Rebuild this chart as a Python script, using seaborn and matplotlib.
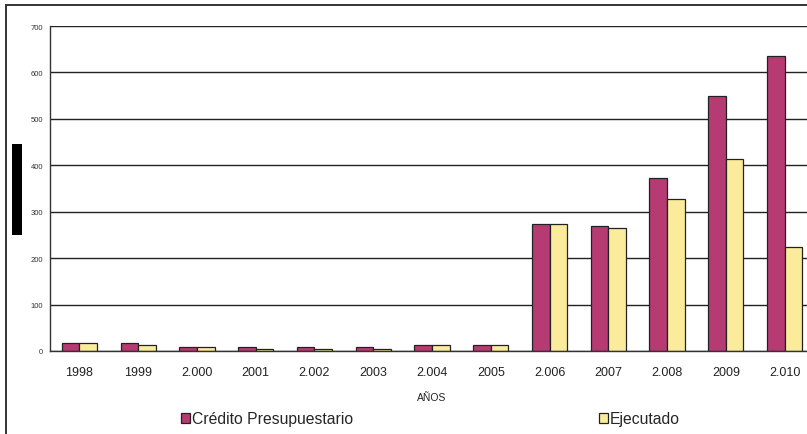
import matplotlib
matplotlib.use("Agg")
import matplotlib.pyplot as plt
import matplotlib.patches as mpatches
import seaborn as sns
import pandas as pd

years = ["1998", "1999", "2.000", "2001", "2.002", "2003", "2.004", "2005",
         "2.006", "2007", "2.008", "2009", "2.010"]
credito = [17, 17, 8, 8, 8, 8, 14, 14, 273, 270, 372, 549, 635]
ejecutado = [17, 12, 8, 5, 5, 5, 14, 14, 273, 266, 327, 414, 223]
series_names = ["Crédito Presupuestario", "Ejecutado"]
colors = ["#B63B73", "#FBEC9C"]
y_ticks = [0, 100, 200, 300, 400, 500, 600, 700]

df = pd.DataFrame({
    "Año": years * 2,
    "Valor": credito + ejecutado,
    "Serie": [series_names[0]] * len(years) + [series_names[1]] * len(years),
})

sns.set_style("white")
plt.rcParams['font.family'] = ['Liberation Sans', 'DejaVu Sans']

W, H = 807, 435
fig = plt.figure(figsize=(W / 100, H / 100), dpi=100)
ax = fig.add_axes([50 / W, (H - 352) / H, (814 - 50) / W, (352 - 27) / H])

sns.barplot(data=df, x="Año", y="Valor", hue="Serie", palette=colors,
            width=0.6, edgecolor="#222222", linewidth=0.9, ax=ax,
            legend=False, saturation=1)

ax.set_xlim(-0.5, len(years) - 0.5)
ax.set_ylim(0, 700)
ax.set_yticks(y_ticks)
ax.set_yticklabels([str(v) for v in y_ticks], fontsize=5.5, color="#333333")
ax.grid(axis="y", color="#222222", linewidth=1.0)
ax.set_axisbelow(True)
for s in ["top", "right"]:
    ax.spines[s].set_visible(False)
ax.spines["left"].set_color("#333333")
ax.spines["bottom"].set_color("#333333")
ax.spines["left"].set_linewidth(1.0)
ax.spines["bottom"].set_linewidth(1.0)

ax.set_xticks(range(len(years)))
ax.set_xticklabels(years, fontsize=9, color="#222222")
ax.tick_params(axis="x", which="major", length=0, pad=11)
ax.set_xticks([i - 0.5 for i in range(len(years) + 1)], minor=True)
ax.tick_params(axis="x", which="minor", length=4, width=1, color="#333333", direction="out")
ax.tick_params(axis="y", length=4, width=1, color="#333333", direction="out", pad=1)
ax.set_xlabel("AÑOS", fontsize=7.5, color="#222222", labelpad=10)
ax.set_ylabel("")

# outer chart border
fig.add_artist(mpatches.Rectangle((6 / W, -0.1), 1.2, (H - 6) / H + 0.1,
                                  transform=fig.transFigure, fill=False,
                                  edgecolor="#333333", linewidth=1.4))
# black block (obscured y-axis title)
fig.add_artist(mpatches.Rectangle((12 / W, (H - 236) / H), 10 / W, 91 / H,
                                  transform=fig.transFigure, facecolor="black",
                                  edgecolor="none"))

h1 = mpatches.Patch(facecolor=colors[0], edgecolor="#222222", linewidth=0.9, label=series_names[0])
h2 = mpatches.Patch(facecolor=colors[1], edgecolor="#222222", linewidth=0.9, label=series_names[1])
for h, x0 in [(h1, 181), (h2, 599)]:
    fig.legend(handles=[h], loc="center left", bbox_to_anchor=(x0 / W, (H - 420) / H),
               frameon=False, fontsize=11.3, handlelength=0.55, handleheight=0.55,
               handletextpad=0.15, borderpad=0, borderaxespad=0)

fig.savefig("out.png", dpi=100)
